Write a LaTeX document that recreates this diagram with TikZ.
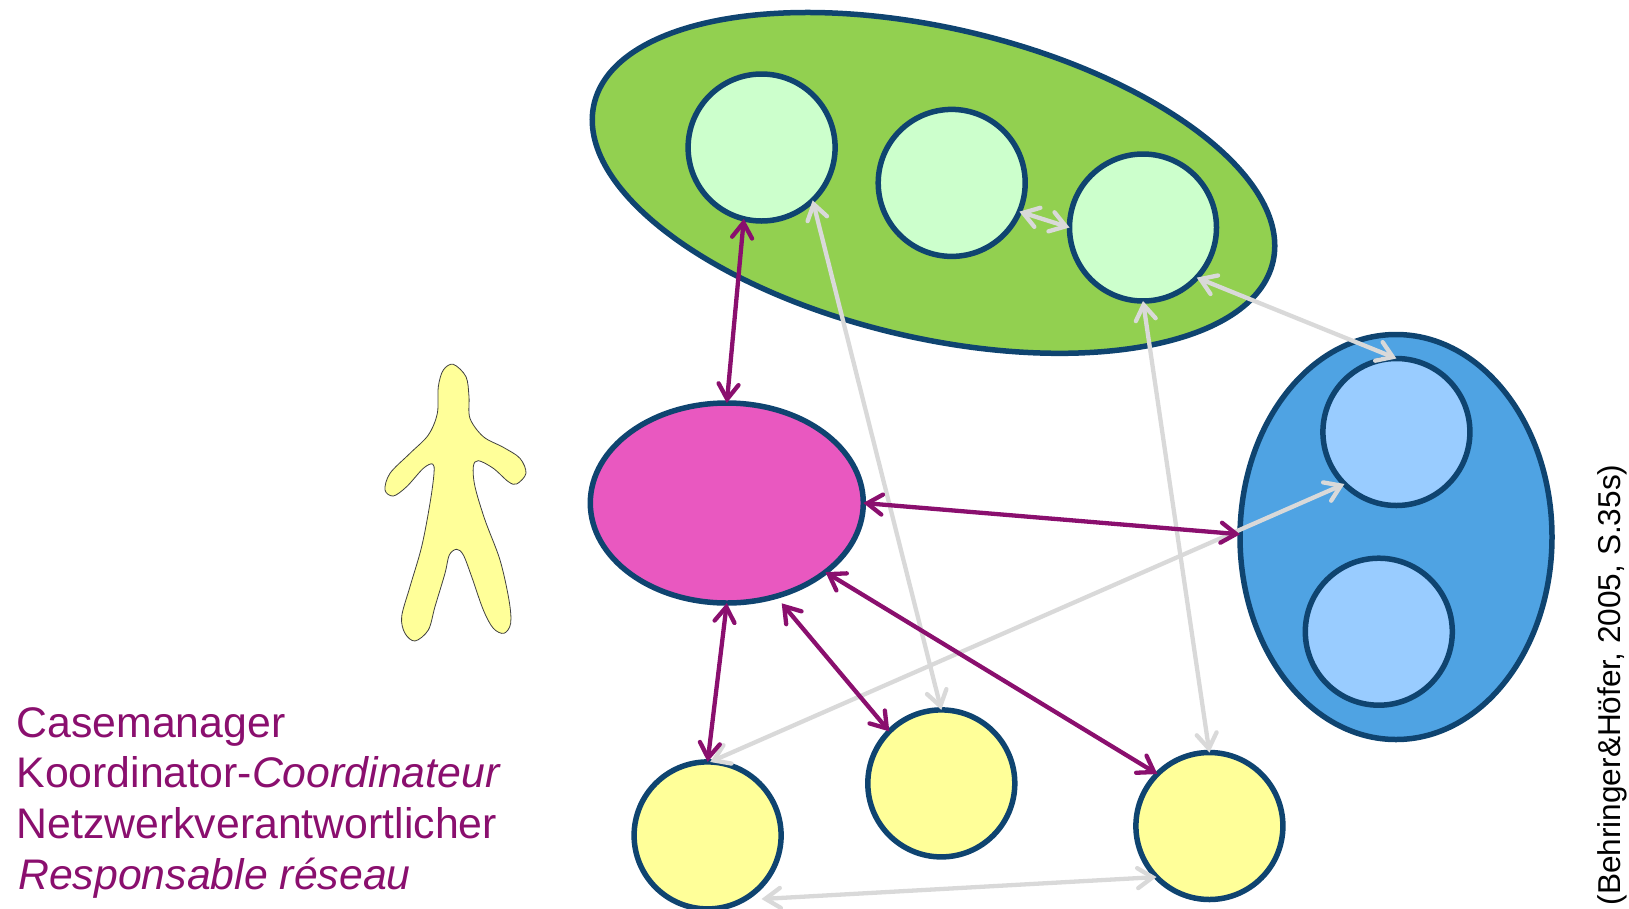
\documentclass[tikz,border=0pt]{standalone}
\usepackage{fontspec}
\setmainfont{Liberation Sans}
\usetikzlibrary{shapes.geometric,arrows.meta}
\definecolor{edge}{HTML}{0F4470}
\definecolor{grp}{HTML}{92D050}
\definecolor{lgreen}{HTML}{CCFFCC}
\definecolor{cpink}{HTML}{E958C0}
\definecolor{cblue}{HTML}{4FA3E3}
\definecolor{lblue}{HTML}{99CCFF}
\definecolor{cyell}{HTML}{FFFF99}
\definecolor{plum}{HTML}{8A0F6E}
\definecolor{lgray}{HTML}{D9D9D9}
\tikzset{
 blob/.style={ellipse,draw=edge,line width=5.5pt,inner sep=0pt,outer sep=0pt},
 member/.style={circle,draw=edge,line width=5.5pt,inner sep=0pt,outer sep=0pt,minimum size=147pt},
 link/.style={line width=4.3pt,line cap=round,{Straight Barb[length=15pt,width=20pt,line cap=round]}-{Straight Barb[length=15pt,width=20pt,line cap=round]}},
 strong/.style={link,draw=plum},
 weak/.style={link,draw=lgray},
 caption/.style={text=plum,font=\fontsize{42.8}{51}\selectfont,anchor=base west,inner sep=0pt},
}
\begin{document}
\begin{tikzpicture}[x=1pt,y=-1pt]
\useasboundingbox (0,0) rectangle (1629,908);
\node[blob,fill=grp,minimum width=697pt,minimum height=310pt,rotate=-13.1] (net) at (933.5,182.9) {};
\node[member,fill=lgreen] (g1) at (761.6,147.5) {};
\node[member,fill=lgreen] (g2) at (951.7,182.9) {};
\node[member,fill=lgreen] (g3) at (1143,227.5) {};
\node[blob,fill=cpink,minimum width=273pt,minimum height=200pt] (pink) at (726.8,503) {};
\node[blob,fill=cblue,minimum width=312pt,minimum height=405pt] (blue) at (1396,537) {};
\node[member,fill=lblue] (b1) at (1396.4,432) {};
\node[member,fill=lblue] (b2) at (1378.8,631.7) {};
\node[member,fill=cyell] (y1) at (707.6,835.4) {};
\node[member,fill=cyell] (y2) at (941.3,783.4) {};
\node[member,fill=cyell] (y3) at (1209.4,826) {};
\coordinate (y1out) at (761.5,899);
\coordinate (pinkout) at (781.7,603.3);
\begin{scope}[shift={(360,340)},x=.3333pt,y=-.3333pt]
\draw[fill=cyell,draw=black!75,line width=.8pt] plot[smooth cycle,tension=.55] coordinates {
(280,73)(318,110)(327,170)(330,235)(370,290)(430,322)(480,355)(498,400)(470,432)(445,425)(400,385)(355,362)(340,380)(345,440)(375,540)(420,660)(447,780)(452,850)(432,880)(400,865)(370,810)(335,710)(310,645)(290,628)(268,645)(255,700)(225,800)(205,870)(165,903)(135,880)(125,830)(150,740)(185,620)(210,490)(222,400)(218,372)(190,385)(140,440)(100,468)(75,450)(90,400)(150,340)(205,285)(232,220)(235,140)(250,90)};
\end{scope}
\draw[weak] (g1.-46.6) -- (y2.90);
\draw[weak] (g2.-23.4) -- (g3.180);
\draw[weak] (g3.-43.3) -- (b1.90);
\draw[weak] (g3.-90) -- (y3.90);
\draw[weak] (y1.88) -- (b1.225);
\draw[weak] (y1out) -- (y3.224.5);
\draw[strong] (g1.-104) -- (pink.90);
\draw[strong] (pink.-0.4) -- (blue.179.6);
\draw[strong] (pink.-90) -- (y1.90);
\draw[strong] (pinkout) -- (y2.135);
\draw[strong] (pink.-35.9) -- (y3.135.5);
\node[caption] (t1) at (16.3,737.2) {Casemanager};
\node[caption] (t2) at (16.3,787.8) {Koordinator-\textit{Coordinateur}};
\node[caption] (t3) at (16.3,838.6) {Netzwerkverantwortlicher};
\node[caption] (t4) at (18,889) {\textit{Responsable réseau}};
\node[rotate=90,anchor=base,font=\fontsize{31.6}{34}\selectfont,inner sep=0pt] (src) at (1620,685) {(Behringer\&Höfer, 2005, S.35s)};
\end{tikzpicture}
\end{document}
